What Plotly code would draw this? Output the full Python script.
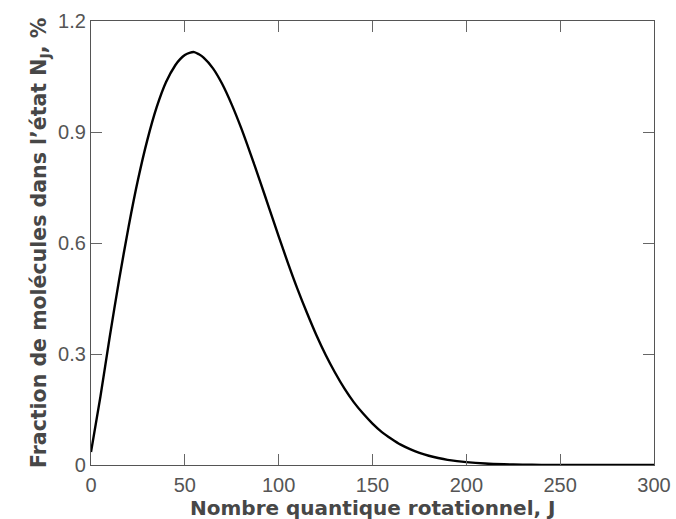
import plotly.graph_objects as go

# Rotational quantum number J (x) and fraction of molecules in state N_J, % (y)
J_values = [0, 5, 10, 15, 20, 25, 30, 35, 40, 45, 47.5, 50, 52.5, 55, 57.5, 60, 65,
            70, 75, 80, 85, 90, 95, 100, 105, 110, 115, 120, 125, 130, 135, 140,
            145, 150, 155, 160, 165, 170, 175, 180, 185, 190, 195, 200, 210, 220,
            230, 240, 250, 260, 270, 280, 290, 300]
fraction_pct = [0.035, 0.184, 0.347, 0.501, 0.643, 0.770, 0.878, 0.967, 1.035,
                1.081, 1.097, 1.108, 1.114, 1.116, 1.110, 1.101, 1.072, 1.029,
                0.974, 0.911, 0.841, 0.768, 0.693, 0.618, 0.545, 0.476, 0.412,
                0.352, 0.298, 0.250, 0.207, 0.170, 0.139, 0.112, 0.089, 0.071,
                0.055, 0.043, 0.033, 0.025, 0.019, 0.014, 0.0105, 0.0078, 0.0041,
                0.0020, 0.0009, 0.0004, 0.0002, 0.0001, 0.00005, 0.00002, 0.00001,
                0.0]

x_ticks = [0, 50, 100, 150, 200, 250, 300]
y_ticks = [0, 0.3, 0.6, 0.9, 1.2]
y_tick_labels = ["0", "0.3", "0.6", "0.9", "1.2"]

x_title = "Nombre quantique rotationnel, J"
y_title = "Fraction de molécules dans l’état N<sub>J</sub>, %"

fig = go.Figure()
fig.add_trace(go.Scatter(
    x=J_values, y=fraction_pct, mode="lines",
    line=dict(color="black", width=2.4, shape="spline", smoothing=0.8),
    showlegend=False, hoverinfo="skip"))

axis_common = dict(
    showline=True, linecolor="#555555", linewidth=1.2, mirror="ticks",
    ticks="inside", ticklen=11, tickwidth=1, tickcolor="#666666",
    showgrid=False, zeroline=False,
    tickfont=dict(family="Liberation Sans, Arial, sans-serif", size=20, color="#555555"),
)

fig.update_xaxes(range=[0, 300], tickvals=x_ticks, ticklabelstandoff=2, **axis_common)
fig.update_yaxes(range=[0, 1.2], tickvals=y_ticks, ticktext=y_tick_labels, **axis_common)

title_font = dict(family="DejaVu Sans, sans-serif", size=20, color="#474747", weight="bold")

fig.add_annotation(text="<b>" + x_title + "</b>", xref="paper", yref="paper",
                   x=0.5, y=0, yshift=-29, xanchor="center", yanchor="top",
                   showarrow=False, font=title_font)
fig.add_annotation(text="<b>" + y_title + "</b>", xref="paper", yref="paper",
                   x=0, y=0.5, xshift=-51, xanchor="center", yanchor="middle",
                   textangle=-90, showarrow=False, font=dict(title_font, size=20.5))

fig.update_layout(
    width=676, height=519,
    margin=dict(l=91, r=22, t=21, b=54, autoexpand=False),
    plot_bgcolor="white", paper_bgcolor="white",
)

fig.write_html("out.html", config={"displayModeBar": False},
               post_script="document.body.style.margin='0';document.body.style.padding='0';")
